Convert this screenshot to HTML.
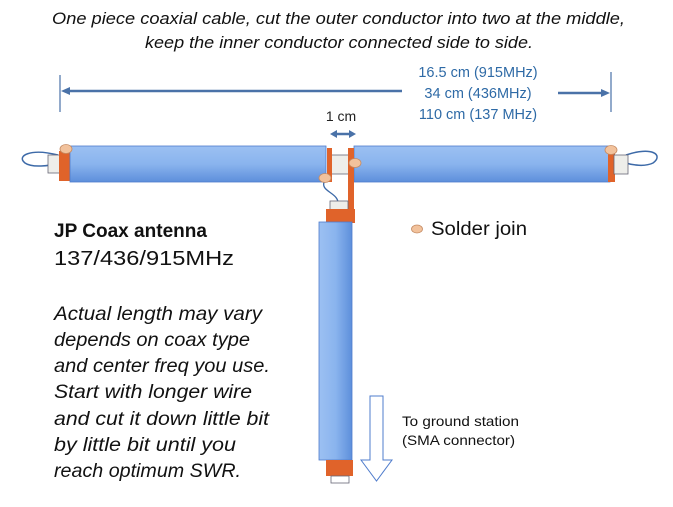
<!DOCTYPE html>
<html><head><style>
html,body{margin:0;padding:0;background:#fff;}
svg{display:block;}
text{font-family:"Liberation Sans",sans-serif;}
</style></head><body>
<svg width="673" height="507" viewBox="0 0 673 507" xmlns="http://www.w3.org/2000/svg">
<defs>
<linearGradient id="gh" x1="0" y1="0" x2="0" y2="1">
<stop offset="0" stop-color="#9cc0f2"/><stop offset="0.5" stop-color="#8ab4ee"/><stop offset="1" stop-color="#5d8fdb"/>
</linearGradient>
<linearGradient id="gv" x1="0" y1="0" x2="1" y2="0">
<stop offset="0" stop-color="#9cc0f2"/><stop offset="0.5" stop-color="#8ab4ee"/><stop offset="1" stop-color="#5d8fdb"/>
</linearGradient>
</defs>
<g font-style="italic" font-size="16.5" fill="#111">
<text x="52" y="24" textLength="573" lengthAdjust="spacingAndGlyphs">One piece coaxial cable, cut the outer conductor into two at the middle,</text>
<text x="145" y="48" textLength="388" lengthAdjust="spacingAndGlyphs">keep the inner conductor connected side to side.</text>
</g>
<g fill="#2e6aa6" font-size="14.5" text-anchor="middle">
<text x="478" y="77">16.5 cm (915MHz)</text>
<text x="478" y="98">34 cm (436MHz)</text>
<text x="478" y="119">110 cm (137 MHz)</text>
</g>
<text x="341" y="121" font-size="14" fill="#222" text-anchor="middle">1 cm</text>
<g stroke="#4a72a8" stroke-width="2.5" fill="#4a72a8">
<line x1="60" y1="75" x2="60" y2="112" stroke-width="1.2"/>
<line x1="611" y1="72" x2="611" y2="112" stroke-width="1.2"/>
<line x1="68" y1="91" x2="402" y2="91"/>
<polygon points="61,91 70,87 70,95" stroke="none"/>
<line x1="558" y1="93" x2="603" y2="93"/>
<polygon points="610,93 601,89 601,97" stroke="none"/>
<line x1="336" y1="134" x2="350" y2="134"/>
<polygon points="330,134 337,130 337,138" stroke="none"/>
<polygon points="356,134 349,130 349,138" stroke="none"/>
</g>
<path d="M58,155 C30,148 16,156 25,163 C32,168 50,166 58,163" fill="none" stroke="#3d6aa8" stroke-width="1.5"/>
<path d="M626,155 C652,146 664,155 653,163 C645,167 632,165 626,163" fill="none" stroke="#3d6aa8" stroke-width="1.5"/>
<rect x="48" y="155" width="12" height="18" fill="#eeeeea" stroke="#667" stroke-width="0.8"/>
<rect x="59" y="151" width="11" height="30" fill="#e0632a"/>
<rect x="70" y="146" width="256" height="36" fill="url(#gh)" stroke="#4f7ccc" stroke-width="0.8"/>
<rect x="354" y="146" width="256" height="36" fill="url(#gh)" stroke="#4f7ccc" stroke-width="0.8"/>
<rect x="608" y="150" width="7" height="32" fill="#e0632a"/>
<rect x="614" y="155" width="14" height="19" fill="#eeeeea" stroke="#667" stroke-width="0.8"/>
<rect x="331" y="155" width="18" height="19" fill="#eeeeea" stroke="#667" stroke-width="0.8"/>
<rect x="327" y="148" width="5" height="34" fill="#e0632a"/>
<rect x="348" y="148" width="6" height="74" fill="#e0632a"/>
<path d="M325,180 C318,192 340,192 338,205" fill="none" stroke="#3d6aa8" stroke-width="1.3"/>
<rect x="330" y="201" width="18" height="12" fill="#eeeeea" stroke="#667" stroke-width="0.8"/>
<rect x="326" y="209" width="29" height="14" fill="#e0632a"/>
<rect x="319" y="222" width="33" height="238" fill="url(#gv)" stroke="#4f7ccc" stroke-width="0.8"/>
<rect x="326" y="460" width="27" height="16" fill="#e0632a"/>
<rect x="331" y="476" width="18" height="7" fill="#fff" stroke="#667" stroke-width="0.8"/>
<g fill="#f2c29c" stroke="#c48a62" stroke-width="0.8">
<ellipse cx="66" cy="149" rx="6" ry="4.5"/>
<ellipse cx="325" cy="178" rx="6" ry="4.5"/>
<ellipse cx="355" cy="163" rx="6" ry="4.5"/>
<ellipse cx="611" cy="150" rx="6" ry="4.5"/>
<ellipse cx="417" cy="229" rx="5.5" ry="4"/>
</g>
<polygon points="370,396 383,396 383,460 392,460 376.5,481 361,460 370,460" fill="#fff" stroke="#4f7ccc" stroke-width="1"/>
<text x="431" y="235" font-size="19" fill="#111" textLength="96" lengthAdjust="spacingAndGlyphs">Solder join</text>
<text x="402" y="426" font-size="14" fill="#111" textLength="117" lengthAdjust="spacingAndGlyphs">To ground station</text>
<text x="402" y="445" font-size="14" fill="#111" textLength="113" lengthAdjust="spacingAndGlyphs">(SMA connector)</text>
<text x="54" y="237" font-size="19.5" font-weight="bold" fill="#111" textLength="153" lengthAdjust="spacingAndGlyphs">JP Coax antenna</text>
<text x="54" y="265" font-size="20" fill="#111" textLength="180" lengthAdjust="spacingAndGlyphs">137/436/915MHz</text>
<g font-size="19" font-style="italic" fill="#111" lengthAdjust="spacingAndGlyphs">
<text x="54" y="320" textLength="208" lengthAdjust="spacingAndGlyphs">Actual length may vary</text>
<text x="54" y="346" textLength="196" lengthAdjust="spacingAndGlyphs">depends on coax type</text>
<text x="54" y="372" textLength="216" lengthAdjust="spacingAndGlyphs">and center freq you use.</text>
<text x="54" y="398" textLength="198" lengthAdjust="spacingAndGlyphs">Start with longer wire</text>
<text x="54" y="425" textLength="215" lengthAdjust="spacingAndGlyphs">and cut it down little bit</text>
<text x="54" y="451" textLength="182" lengthAdjust="spacingAndGlyphs">by little bit until you</text>
<text x="54" y="477" textLength="187" lengthAdjust="spacingAndGlyphs">reach optimum SWR.</text>
</g>
</svg>
</body></html>
